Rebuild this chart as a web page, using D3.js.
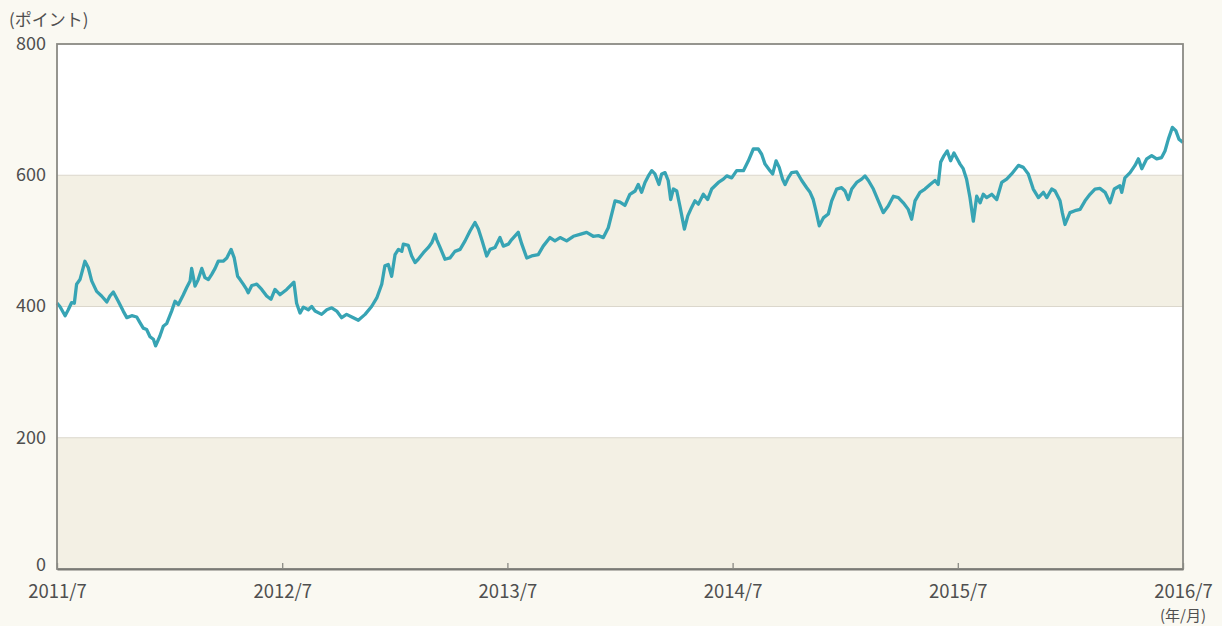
<!DOCTYPE html>
<html>
<head>
<meta charset="utf-8">
<script src="https://cdn.jsdelivr.net/npm/d3@7/dist/d3.min.js"></script>
<style>
  html, body { margin: 0; padding: 0; background: #faf9f2; }
  svg { display: block; }
  text { font-family: "Noto Sans CJK JP", "Noto Sans", sans-serif; fill: #4f4f4f; }
</style>
</head>
<body>
<svg id="chart" width="1222" height="626"></svg>
<script>
// Years elapsed since 2011/7
const yearsSinceStart = [
  0.000,0.013,0.036,0.050,0.065,0.077,0.087,0.102,0.124,0.139,0.154,0.176,0.198,0.221,0.235,0.250,0.272,0.294,0.310,0.332,
  0.354,0.369,0.383,0.398,0.413,0.428,0.438,0.457,0.472,0.487,0.509,0.524,0.539,0.561,0.576,0.591,0.598,0.613,0.627,0.643,
  0.657,0.672,0.687,0.702,0.716,0.738,0.754,0.773,0.787,0.802,0.813,0.827,0.842,0.849,0.865,0.887,0.909,0.931,0.950,0.968,
  0.990,1.020,1.052,1.064,1.079,1.094,1.116,1.131,1.146,1.175,1.198,1.220,1.242,1.264,1.286,1.309,1.338,1.368,1.397,1.420,
  1.442,1.456,1.471,1.486,1.501,1.516,1.531,1.538,1.560,1.575,1.590,1.604,1.627,1.649,1.664,1.679,1.686,1.701,1.723,1.745,
  1.767,1.790,1.812,1.834,1.856,1.871,1.886,1.908,1.923,1.945,1.967,1.982,2.004,2.019,2.048,2.064,2.086,2.108,2.137,2.159,
  2.189,2.211,2.234,2.263,2.293,2.322,2.352,2.381,2.404,2.426,2.448,2.478,2.500,2.522,2.544,2.567,2.581,2.596,2.611,2.626,
  2.641,2.655,2.673,2.685,2.700,2.714,2.725,2.737,2.752,2.766,2.786,2.801,2.818,2.833,2.848,2.870,2.889,2.907,2.937,2.959,
  2.974,2.996,3.018,3.048,3.070,3.092,3.114,3.129,3.144,3.166,3.178,3.193,3.207,3.222,3.233,3.247,3.262,3.285,3.307,3.329,
  3.344,3.358,3.370,3.385,3.403,3.425,3.440,3.462,3.484,3.499,3.514,3.529,3.551,3.573,3.588,3.603,3.625,3.647,3.669,3.691,
  3.714,3.736,3.758,3.780,3.795,3.810,3.832,3.854,3.877,3.899,3.913,3.924,3.939,3.953,3.968,3.983,4.002,4.010,4.024,4.039,
  4.054,4.069,4.084,4.099,4.113,4.128,4.151,4.173,4.195,4.217,4.239,4.269,4.291,4.313,4.335,4.358,4.380,4.395,4.417,4.432,
  4.454,4.464,4.476,4.498,4.520,4.543,4.565,4.587,4.609,4.631,4.654,4.676,4.695,4.720,4.728,4.742,4.765,4.787,4.802,4.817,
  4.839,4.861,4.883,4.905,4.920,4.935,4.953,4.968,4.982,5.000
];
// Index level (points)
const indexValues = [
  405,400,386,395,406,405,434,441,469,459,439,423,416,407,416,422,408,393,383,386,
  384,375,367,365,354,350,340,355,370,374,393,408,403,418,429,439,458,431,441,458,
  444,441,449,458,469,469,474,487,474,446,441,434,426,421,432,434,426,416,411,426,
  418,426,437,405,390,399,395,400,393,388,395,398,393,383,388,384,379,388,400,413,
  434,462,464,446,479,487,484,495,493,477,467,472,482,490,497,510,502,490,472,474,
  484,487,500,515,528,518,502,477,487,490,505,492,495,502,513,495,474,477,479,492,
  505,500,505,500,507,510,513,507,508,505,520,561,559,554,571,576,586,574,589,599,
  607,602,586,602,604,592,563,579,576,553,518,538,551,561,556,571,563,579,589,594,
  599,596,607,607,622,640,640,632,617,607,602,622,612,594,586,596,604,605,592,581,
  574,563,546,523,535,541,561,579,581,576,563,579,589,594,599,592,579,561,543,553,
  568,566,558,548,533,561,574,579,586,592,586,620,630,637,622,634,622,617,610,594,
  566,530,568,558,571,566,571,563,589,594,602,615,612,602,579,566,574,566,579,576,
  561,543,525,543,546,548,561,571,579,580,574,558,579,584,574,596,604,615,625,610,
  625,630,625,627,637,655,673,668,655,650
];
const xTickValues = [0, 1, 2, 3, 4, 5];
const xTickLabels = ["2011/7", "2012/7", "2013/7", "2014/7", "2015/7", "2016/7"];
const yTickValues = [0, 200, 400, 600, 800];
const bandRanges = [[0, 200], [400, 600]];

const svg = d3.select("#chart");
const M = { left: 57, right: 1183, top: 44, bottom: 569 };

const x = d3.scaleLinear().domain([0, 5]).range([M.left, M.right]);
const y = d3.scaleLinear().domain([0, 800]).range([M.bottom, M.top]);

// plot background
svg.append("rect").attr("x", M.left).attr("y", M.top)
  .attr("width", M.right - M.left).attr("height", M.bottom - M.top).attr("fill", "#ffffff");

// beige bands
svg.selectAll("rect.band").data(bandRanges).enter().append("rect")
  .attr("class", "band")
  .attr("x", M.left).attr("width", M.right - M.left)
  .attr("y", d => y(d[1])).attr("height", d => y(d[0]) - y(d[1]))
  .attr("fill", "#f3f0e4");

// grid lines
svg.selectAll("line.grid").data([200, 400, 600]).enter().append("line")
  .attr("class", "grid")
  .attr("x1", M.left).attr("x2", M.right)
  .attr("y1", d => y(d)).attr("y2", d => y(d))
  .attr("stroke", "#dbd7cc").attr("stroke-width", 1.2);

// data line
const data = yearsSinceStart.map((t, i) => ({ t, v: indexValues[i] }));
const line = d3.line().x(d => x(d.t)).y(d => y(d.v)).curve(d3.curveLinear);
svg.append("path").datum(data)
  .attr("d", line)
  .attr("fill", "none")
  .attr("stroke", "#37a4b4")
  .attr("stroke-width", 3.3)
  .attr("stroke-linejoin", "round");

// frame
svg.append("rect").attr("x", M.left).attr("y", M.top)
  .attr("width", M.right - M.left).attr("height", M.bottom - M.top)
  .attr("fill", "none").attr("stroke", "#8a8a84").attr("stroke-width", 1.8);

// x axis (ticks pointing up)
const xAxis = d3.axisBottom(x).tickValues(xTickValues)
  .tickSize(-6).tickSizeOuter(0).tickFormat((d, i) => xTickLabels[i]);
const gx = svg.append("g").attr("transform", `translate(0,${M.bottom})`).call(xAxis);
gx.select(".domain").attr("stroke", "#7a7a75").attr("stroke-width", 2.2);
gx.selectAll(".tick line").attr("stroke", "#8a8a84").attr("stroke-width", 1.3);
gx.selectAll(".tick text").attr("y", 29).attr("dy", "0")
  .style("font-size", "18.5px").style("fill", "#4f4f4f");

// y axis labels
const yAxis = d3.axisLeft(y).tickValues(yTickValues).tickSize(0).tickPadding(11);
const gy = svg.append("g").attr("transform", `translate(${M.left},0)`).call(yAxis);
gy.select(".domain").remove();
gy.selectAll(".tick text").attr("dy", d => d === 0 ? "0.08em" : "0.3em")
  .style("font-size", "18px").style("fill", "#4f4f4f");

// unit labels
svg.append("text").attr("x", 9).attr("y", 26)
  .style("font-size", "17px").text("(ポイント)");
svg.append("text").attr("x", x(5)).attr("y", 621)
  .attr("text-anchor", "middle").style("font-size", "15px").text("(年/月)");
</script>
</body>
</html>
